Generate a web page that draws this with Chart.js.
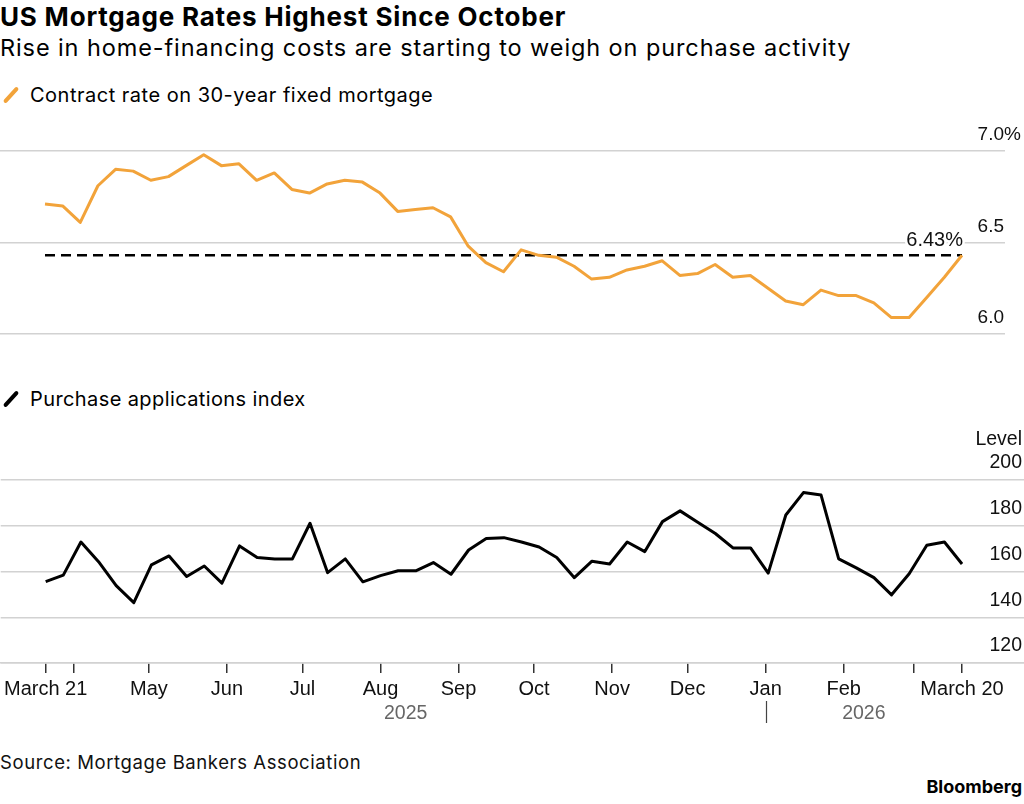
<!DOCTYPE html>
<html>
<head>
<meta charset="utf-8">
<script src="https://cdn.jsdelivr.net/npm/chart.js@4.4.1/dist/chart.umd.min.js"></script>
<style>
  html, body { margin:0; padding:0; background:#fff; }
  body { width:1024px; height:804px; position:relative; overflow:hidden;
         font-family:Inter, "Liberation Sans", Arial, sans-serif; color:#000; }
  .txt { position:absolute; white-space:nowrap; }
  .box { position:absolute; left:0; top:0; width:1024px; height:804px; }
  .icon { display:inline-block; position:absolute; width:20px; height:4px; border-radius:2px;
          transform:rotate(-48deg); }
</style>
</head>
<body>
<div class="txt" style="left:0;top:2px;font-size:26px;font-weight:bold;line-height:30px;letter-spacing:0.8px">US Mortgage Rates Highest Since October</div>
<div class="txt" style="left:0;top:35px;font-size:23.5px;line-height:26px;letter-spacing:0.9px">Rise in home-financing costs are starting to weigh on purchase activity</div>
<div class="txt" style="left:0;top:83px;font-size:20px;line-height:24px;letter-spacing:0.5px"><span class="icon" style="left:1px;top:10px;background:#f2a33a"></span><span style="margin-left:30px">Contract rate on 30-year fixed mortgage</span></div>
<div class="txt" style="left:0;top:387px;font-size:20px;line-height:24px;letter-spacing:0.4px"><span class="icon" style="left:1px;top:10px;background:#000"></span><span style="margin-left:30px">Purchase applications index</span></div>
<div class="txt" style="left:0;top:750px;font-size:18.5px;line-height:24px;color:#111;letter-spacing:0.6px">Source: Mortgage Bankers Association</div>
<div class="txt" style="right:2px;top:776px;font-size:18px;font-weight:bold;line-height:22px">Bloomberg</div>

<div class="box"><canvas id="rateChart"></canvas></div>
<div class="box"><canvas id="appsChart"></canvas></div>

<script>
// weekly readings, March 21 2025 .. March 20 2026 (day 0 = March 21 2025)
var weekDays = [];
for (var w = 0; w <= 52; w++) weekDays.push(w * 7);

var contractRate = [6.71, 6.70, 6.61, 6.81, 6.90, 6.89, 6.84, 6.86, 6.92, 6.98,
  6.92, 6.93, 6.84, 6.88, 6.79, 6.77, 6.82, 6.84, 6.83, 6.77,
  6.67, 6.68, 6.69, 6.64, 6.48, 6.39, 6.34, 6.46, 6.43, 6.42,
  6.37, 6.30, 6.31, 6.35, 6.37, 6.40, 6.32, 6.33, 6.38, 6.31,
  6.32, 6.25, 6.18, 6.16, 6.24, 6.21, 6.21, 6.17, 6.09, 6.09,
  6.20, 6.31, 6.43];

var purchaseIndex = [155.6, 158.4, 172.9, 164.3, 153.8, 146.4, 162.9, 166.8, 157.8, 162.4,
  154.9, 171.2, 166.1, 165.5, 165.5, 181.1, 159.5, 165.5, 155.5, 158.2,
  160.3, 160.3, 163.9, 158.8, 169.4, 174.4, 174.8, 172.9, 170.7, 166.1,
  157.3, 164.5, 163.3, 172.9, 168.7, 181.8, 186.5, 181.5, 176.6, 170.3,
  170.3, 159.3, 184.7, 194.5, 193.4, 165.5, 161.6, 157.3, 149.8, 159.0,
  171.5, 172.9, 163.3];

var latestRate = 6.43;

var tickDays   = [0, 11, 41, 72, 102, 133, 164, 194, 225, 255, 286, 317, 345, 364];
var tickLabels = ["March 21", "", "May", "Jun", "Jul", "Aug", "Sep", "Oct", "Nov", "Dec", "Jan", "Feb", "", "March 20"];

var rateTicks = [6.0, 6.5, 7.0];
var rateTickLabels = ["6.0", "6.5", "7.0"];
var appsTicks = [120, 140, 160, 180, 200];

var years = [{label:"2025", from:0, to:286}, {label:"2026", from:286, to:364}];

var FONT = '"Liberation Sans", Arial, sans-serif';
var ORANGE = '#f2a33a';
var GRID = '#d2d2d2';

// where first and last week sit on the page
var firstX = 45, lastX = 962;
function xRange(areaWidth) {
  var span = (weekDays[weekDays.length - 1] - weekDays[0]) * areaWidth / (lastX - firstX);
  var mn = weekDays[0] - firstX * span / areaWidth;
  return {min: mn, max: mn + span};
}

function pts(vals) {
  return vals.map(function(v, i){ return {x: weekDays[i], y: v}; });
}

// top panel ---------------------------------------------------------
var topRight = 1005;
var topRange = xRange(topRight);

var rateLabels = {
  id: 'rateLabels',
  afterDraw: function(chart) {
    var ctx = chart.ctx, y = chart.scales.y, x = chart.scales.x;
    ctx.save();
    ctx.font = '19px ' + FONT;
    ctx.fillStyle = '#111';
    ctx.textBaseline = 'middle';
    rateTicks.forEach(function(t, i) {
      var py = y.getPixelForValue(t) - 16;
      ctx.textAlign = 'right';
      ctx.fillText(rateTickLabels[i], topRight - 1, py);
      if (i == rateTicks.length - 1) {
        ctx.textAlign = 'left';
        ctx.fillText('%', topRight - 1, py);
      }
    });
    // latest value label
    var lx = x.getPixelForValue(weekDays[weekDays.length - 1]) + 1;
    var ly = y.getPixelForValue(latestRate) - 15;
    ctx.font = '20px ' + FONT;
    ctx.textAlign = 'right';
    ctx.lineWidth = 5;
    ctx.strokeStyle = '#fff';
    ctx.strokeText(latestRate.toFixed(2) + '%', lx, ly);
    ctx.fillText(latestRate.toFixed(2) + '%', lx, ly);
    ctx.restore();
  }
};

new Chart(document.getElementById('rateChart'), {
  type: 'line',
  data: {
    datasets: [
      { data: pts(contractRate), borderColor: ORANGE, borderWidth: 3, pointRadius: 0,
        tension: 0, borderJoinStyle: 'round', fill: false },
      { data: [{x: weekDays[0], y: latestRate}, {x: weekDays[weekDays.length - 1], y: latestRate}],
        borderColor: '#000', borderWidth: 2.5, borderDash: [10, 6], pointRadius: 0, fill: false }
    ]
  },
  options: {
    responsive: true, maintainAspectRatio: false, animation: false,
    layout: { padding: { left: 0, right: 1024 - topRight, top: 151, bottom: 804 - 334 } },
    plugins: { legend: { display: false }, tooltip: { enabled: false } },
    scales: {
      x: { type: 'linear', min: topRange.min, max: topRange.max, display: false },
      y: { min: 6.0, max: 7.0, position: 'right',
           afterBuildTicks: function(s){ s.ticks = rateTicks.map(function(v){ return {value: v}; }); },
           afterFit: function(s){ s.width = 0; },
           ticks: { display: false },
           border: { display: false },
           grid: { color: GRID, lineWidth: 1.5, drawTicks: false } }
    }
  },
  plugins: [rateLabels]
});

// bottom panel ------------------------------------------------------
var botRange = xRange(1024);

var appsLabels = {
  id: 'appsLabels',
  afterDraw: function(chart) {
    var ctx = chart.ctx, y = chart.scales.y, x = chart.scales.x;
    ctx.save();
    ctx.font = '19.5px ' + FONT;
    ctx.fillStyle = '#111';
    ctx.textBaseline = 'middle';
    ctx.textAlign = 'right';
    appsTicks.forEach(function(t) {
      ctx.fillText(String(t), 1022, y.getPixelForValue(t) - 17);
    });
    ctx.fillText('Level', 1022, y.getPixelForValue(200) - 40);
    // year row
    ctx.textAlign = 'center';
    ctx.fillStyle = '#666';
    var rowY = chart.chartArea.bottom + 51;
    years.forEach(function(yr) {
      ctx.fillText(yr.label, x.getPixelForValue((yr.from + yr.to) / 2), rowY);
    });
    var sx = Math.round(x.getPixelForValue(years[1].from)) + 0.5;
    ctx.strokeStyle = '#444';
    ctx.lineWidth = 1.2;
    ctx.beginPath();
    ctx.moveTo(sx, rowY - 13);
    ctx.lineTo(sx, rowY + 9);
    ctx.stroke();
    ctx.restore();
  }
};

new Chart(document.getElementById('appsChart'), {
  type: 'line',
  data: {
    datasets: [
      { data: pts(purchaseIndex), borderColor: '#000', borderWidth: 3, pointRadius: 0,
        tension: 0, borderJoinStyle: 'round', fill: false }
    ]
  },
  options: {
    responsive: true, maintainAspectRatio: false, animation: false,
    layout: { padding: { left: 0, right: 0, top: 480, bottom: 0 } },
    plugins: { legend: { display: false }, tooltip: { enabled: false } },
    scales: {
      x: { type: 'linear', min: botRange.min, max: botRange.max,
           afterBuildTicks: function(s){ s.ticks = tickDays.map(function(v){ return {value: v}; }); },
           afterFit: function(s){ s.height = 804 - 663; },
           ticks: { font: { family: FONT, size: 20 }, color: '#111', padding: 4, maxRotation: 0,
                     autoSkip: false,
                     callback: function(v){ var i = tickDays.indexOf(v); return i < 0 ? '' : tickLabels[i]; } },
           border: { display: true, color: GRID, width: 1.5 },
           grid: { drawOnChartArea: false, drawTicks: true, tickLength: 10, tickColor: '#333', lineWidth: 1.5 } },
      y: { min: 120, max: 200, position: 'right',
           afterBuildTicks: function(s){ s.ticks = appsTicks.map(function(v){ return {value: v}; }); },
           afterFit: function(s){ s.width = 0; },
           ticks: { display: false },
           border: { display: false },
           grid: { color: GRID, lineWidth: 1.5, drawTicks: false } }
    }
  },
  plugins: [appsLabels]
});
</script>
</body>
</html>
